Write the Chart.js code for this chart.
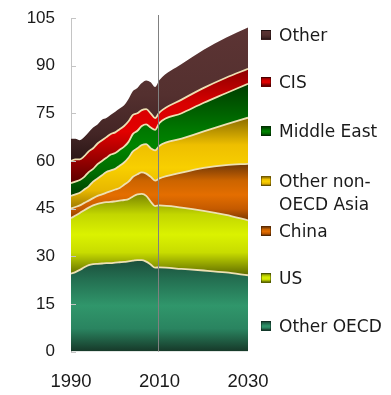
<!DOCTYPE html>
<html><head><meta charset="utf-8">
<script src="https://cdn.jsdelivr.net/npm/chart.js@4.4.1/dist/chart.umd.min.js"></script>
<style>
html,body{margin:0;padding:0;background:#fff;}
#wrap{position:relative;width:391px;height:395px;overflow:hidden;}
#c{position:absolute;left:0;top:0;}
#legend{position:absolute;left:0;top:0;width:391px;height:395px;pointer-events:none;font-family:"DejaVu Sans",sans-serif;font-size:17px;color:#1a1a1a;}
.item{position:absolute;left:261px;display:flex;align-items:flex-start;line-height:23px;white-space:nowrap;}
.sw{width:10px;height:10px;margin-top:6px;margin-right:8px;box-sizing:border-box;border:1px solid rgba(0,0,0,0.35);flex:none;}
</style></head>
<body><div id="wrap"><canvas id="c" width="391" height="395"></canvas><div id="legend"></div></div>
<script>
// ---- data ----
const years = [1990,1991,1992,1993,1994,1995,1996,1997,1998,1999,2000,2001,2002,2003,2004,2005,2006,2007,2008,2009,2010,2015,2020,2025,2030];
const otherOECD = [24.5,25,25.7,26.5,27.2,27.5,27.6,27.7,27.8,27.8,28,28.1,28.2,28.4,28.6,28.8,28.8,28.3,27.4,26.4,26.5,26,25.5,24.9,24];
const us        = [17.5,17.8,17.9,18,18.1,18.5,18.9,19.1,19.2,19.3,19.3,19.4,19.5,19.6,20.2,20.7,20.8,20.7,19.8,19.4,19.5,19.3,18.8,18.1,17.3];
const china     = [3,2.7,2.4,2.3,2.2,2.3,2.5,2.7,3,3.4,3.7,4,4.8,5.5,6.2,6.3,6.8,7,7.8,8,8.5,11,13.5,15.7,17.8];
const otherNonOECDAsia = [4,4,4,4.2,4.5,5.2,5.5,6,6.5,6.5,6.5,7,7,7.5,8,8.2,8.6,9.3,9,9.5,10.3,10.7,11.5,12.8,14.5];
const middleEast = [4,4,4,4,4.5,4,4.5,4.5,4.5,5,5,5,5,5,5.5,5.5,6,6.2,6.5,6.5,7.2,8,9,9.8,10.7];
const cis       = [7,7,6.5,6.5,6.5,6.5,6.5,6.5,6.5,6.5,6.5,6.5,6.5,6.5,6,5.5,5,4.8,4.5,3.7,3.3,4.3,4.7,4.9,4.7];
const other     = [7,6.5,6,6,6,6.5,6,6.5,6,6,6.5,6.5,6.5,7,7.5,8,8.5,9,9.8,9.8,10.2,11.2,12,12.6,13];
const seriesNames = ['Other OECD','US','China','Other non-OECD Asia','Middle East','CIS','Other'];
const legendLabels = [['Other OECD'],['US'],['China'],['Other non-','OECD Asia'],['Middle East'],['CIS'],['Other']];
const xTickValues = [1990,2010,2030];
const yTickValues = [0,15,30,45,60,75,90,105];
const dividerYear = 2009.6;

// ---- styles ----
const series = [otherOECD, us, china, otherNonOECDAsia, middleEast, cis, other];
const gradStops = [
  [[0,'#1b4e3b'],[0.2,'#236d50'],[0.5,'#30966b'],[0.75,'#2a8460'],[1,'#163828']],
  [[0,'#7a8600'],[0.25,'#c2d600'],[0.5,'#dbf200'],[0.72,'#c8dc00'],[1,'#5e6a00']],
  [[0,'#6e3608'],[0.3,'#cc6400'],[0.55,'#e46e00'],[0.8,'#c45a00'],[1,'#7a3800']],
  [[0,'#8a6c00'],[0.3,'#eebf00'],[0.55,'#f8cf00'],[0.8,'#e8b800'],[1,'#9c7800']],
  [[0,'#003c00'],[0.4,'#007600'],[0.55,'#008400'],[0.8,'#006a00'],[1,'#003e00']],
  [[0,'#8c0000'],[0.3,'#d80000'],[0.55,'#e20000'],[1,'#5a0000']],
  [[0,'#5c3434'],[0.5,'#54302f'],[0.8,'#432525'],[1,'#2a1616']]
];
const midColor = ['#2e8e66','#cfe600','#d86a00','#f0c000','#007a00','#d40000','#4e2c2c'];

function bandGradient(i){
  return function(ctx){
    const chart = ctx.chart, area = chart.chartArea;
    if(!area) return midColor[i];
    const ys = chart.scales.y;
    let lo = Infinity, hi = -Infinity;
    for(let k=0;k<years.length;k++){
      let base = 0;
      for(let j=0;j<i;j++) base += series[j][k];
      lo = Math.min(lo, base); hi = Math.max(hi, base + series[i][k]);
    }
    const g = chart.ctx.createLinearGradient(0, ys.getPixelForValue(hi), 0, ys.getPixelForValue(lo));
    gradStops[i].forEach(s => g.addColorStop(s[0], s[1]));
    return g;
  };
}

const datasets = series.map((vals,i)=>({
  label: seriesNames[i],
  data: years.map((yr,k)=>({x:yr, y:vals[k]})),
  backgroundColor: bandGradient(i),
  borderColor: i === series.length-1 ? 'rgba(0,0,0,0)' : '#eee0b2',
  borderWidth: i === series.length-1 ? 0 : 1.8,
  fill: i === 0 ? 'origin' : '-1',
  pointRadius: 0,
  cubicInterpolationMode: 'monotone'
}));

const divider = {
  id:'divider',
  afterDatasetsDraw(chart){
    const c = chart.ctx, a = chart.chartArea, ys = chart.scales.y;
    const x = Math.round(chart.scales.x.getPixelForValue(dividerYear)) + 0.5;
    c.save();
    c.strokeStyle = '#808080'; c.lineWidth = 1;
    c.beginPath(); c.moveTo(x, a.top - 3); c.lineTo(x, a.bottom); c.stroke();
    // small inward tick marks on the value axis
    c.strokeStyle = '#c4c4c4';
    yTickValues.forEach(v=>{
      const y = Math.round(ys.getPixelForValue(v)) + 0.5;
      c.beginPath(); c.moveTo(a.left, y); c.lineTo(a.left + 5, y); c.stroke();
    });
    c.restore();
  }
};

new Chart(document.getElementById('c'), {
  type:'line',
  data:{datasets},
  options:{
    responsive:false, animation:false,
    layout:{padding:{top:18,right:143,left:0,bottom:0}},
    plugins:{legend:{display:false}, tooltip:{enabled:false}},
    scales:{
      x:{type:'linear', min:1990, max:2030,
         afterBuildTicks(s){ s.ticks = xTickValues.map(v=>({value:v})); },
         afterFit(s){ s.height = 43.5; s.paddingLeft = 0; s.paddingRight = 0; },
         grid:{display:false, drawTicks:false}, border:{display:false},
         ticks:{padding:19, maxRotation:0, autoSkip:false, color:'#1a1a1a',
                font:{family:'"Liberation Sans", Arial, sans-serif', size:18.5},
                callback:v=>String(v)}},
      y:{stacked:true, min:0, max:105,
         afterBuildTicks(s){ s.ticks = yTickValues.map(v=>({value:v})); },
         afterFit(s){ s.width = 71; s.paddingTop = 0; s.paddingBottom = 0; },
         grid:{display:false, drawTicks:false}, border:{display:true, color:'#c4c4c4', width:1},
         ticks:{padding:16, color:'#1a1a1a',
                font:{family:'"Liberation Sans", Arial, sans-serif', size:17},
                callback:v=>String(v)}}
    }
  },
  plugins:[divider]
});

// ---- legend (HTML) ----
const legendCenters = [326,278,231,181,131,82,35];
const lg = document.getElementById('legend');
legendLabels.forEach((lines,i)=>{
  const it = document.createElement('div');
  it.className = 'item';
  it.style.top = (legendCenters[i] - 11.5) + 'px';
  const sw = document.createElement('div');
  sw.className = 'sw';
  sw.style.background = 'linear-gradient(' + gradStops[i].map(s=>s[1]+' '+(s[0]*100)+'%').join(',') + ')';
  const tx = document.createElement('div');
  tx.innerHTML = lines.join('<br>');
  it.appendChild(sw); it.appendChild(tx);
  lg.appendChild(it);
});
</script></body></html>
